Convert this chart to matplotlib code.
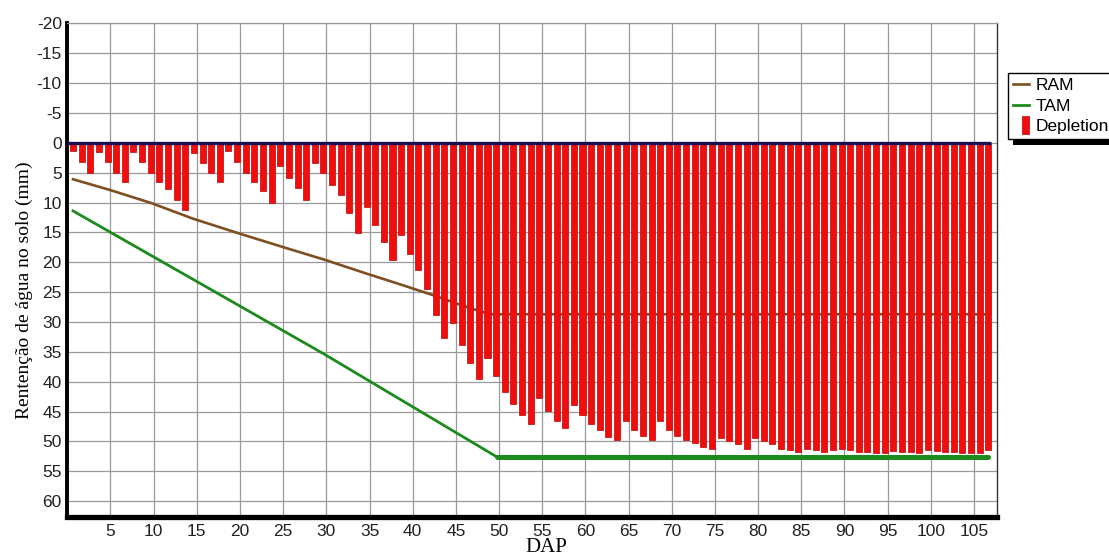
import matplotlib
matplotlib.use('Agg')
import matplotlib.pyplot as plt
from matplotlib.patches import Rectangle
from matplotlib.transforms import IdentityTransform
from matplotlib.legend_handler import HandlerPatch

plt.rcParams['font.family'] = ['Liberation Sans', 'DejaVu Sans']
plt.rcParams['axes.unicode_minus'] = False

# daily depletion (mm), DAP 1..107
days = list(range(1, 108))
depletion = [
    1.3, 3.2, 5.0, 1.5, 3.2, 5.0, 6.6, 1.5, 3.2, 5.0,
    6.6, 7.8, 9.6, 11.3, 1.7, 3.4, 5.1, 6.6, 1.3, 3.2,
    5.0, 6.6, 8.1, 10.1, 3.9, 5.9, 7.6, 9.6, 3.4, 5.1,
    7.1, 8.8, 11.7, 15.1, 10.8, 13.8, 16.6, 19.6, 15.5, 18.6,
    21.3, 24.5, 28.9, 32.6, 30.2, 33.9, 36.8, 39.6, 36.1, 39.0,
    41.7, 43.7, 45.6, 47.1, 42.8, 44.9, 46.6, 47.8, 43.9, 45.6,
    47.0, 48.0, 49.2, 49.8, 46.6, 48.0, 49.0, 49.8, 46.6, 48.0,
    49.0, 49.8, 50.3, 50.9, 51.2, 49.5, 50.0, 50.5, 51.2, 49.5,
    50.0, 50.5, 51.2, 51.5, 51.8, 51.2, 51.5, 51.8, 51.5, 51.3,
    51.5, 51.8, 51.8, 51.9, 51.9, 51.6, 51.8, 51.8, 51.9, 51.4,
    51.6, 51.8, 51.8, 52.0, 52.0, 52.0, 51.5,
]

# readily / total available moisture (mm), read at break points
ram_days = [1, 5.3, 10.1, 14.9, 20.3, 25.2, 30.2, 35, 38.9, 42.7, 45.4, 47.7, 49.3, 107]
ram_vals = [6.1, 7.9, 10.1, 12.7, 15.2, 17.4, 19.6, 21.9, 23.7, 25.5, 26.9, 28.0, 28.7, 28.7]
tam_days = [1, 30, 50.1, 107]
tam_vals = [11.4, 35.3, 52.6, 52.6]

xticks = list(range(5, 106, 5))
yticks = list(range(-20, 61, 5))

shift = 0.34  # bars sit slightly left of the day value
bar_x = [d - shift for d in days]
ram_x = [d - shift for d in ram_days]
tam_x = [d - shift for d in tam_days]


def narrow_box(legend, orig_handle, xdescent, ydescent, width, height, fontsize):
    # tall thin swatch like the original legend
    return Rectangle((-xdescent + 0.55 * width, -ydescent - 0.2 * height),
                     0.45 * width, 1.4 * height)


fig = plt.figure(figsize=(11.09, 5.57), dpi=100)
ax = fig.add_axes([0.0607, 0.0723, 0.8386, 0.8857])

ax.set_axisbelow(True)
ax.grid(True, color='#9a9a9a', linewidth=0.9)

ram_line, = ax.plot(ram_x, ram_vals, color='#7d4f22', lw=1.9, zorder=2, label='RAM')
bars = ax.bar(bar_x, depletion, width=0.7, color='#f20c0c', edgecolor='#c41a1a',
              linewidth=0.6, zorder=3, label='Depletion')
tam_line, = ax.plot(tam_x, tam_vals, color='#1d8a1d', lw=2.0, zorder=4, label='TAM')
ax.plot(tam_x[-2:], tam_vals[-2:], color='#1d8a1d', lw=3.6, zorder=4,
        solid_capstyle='round')
ax.hlines(0, 0, bar_x[-1] + 0.35, color='#1c0c50', lw=2.4, zorder=5)

ax.set_xlim(0, 107.7)
ax.set_ylim(62.6, -20)
ax.set_xticks(xticks)
ax.set_yticks(yticks)
ax.tick_params(axis='both', length=0, labelsize=12.5, labelcolor='#222222')
ax.tick_params(axis='y', pad=4)
ax.tick_params(axis='x', pad=5)

ax.spines['left'].set_linewidth(2.8)
ax.spines['left'].set_color('black')
ax.spines['bottom'].set_linewidth(3.8)
ax.spines['bottom'].set_color('black')
ax.spines['top'].set_color('#9a9a9a')
ax.spines['top'].set_linewidth(0.9)
ax.spines['right'].set_color('#333333')
ax.spines['right'].set_linewidth(1.0)

ax.set_ylabel('Rentenção de água no solo (mm)', family='Liberation Serif', fontsize=14)
ax.yaxis.set_label_coords(-0.037, 0.46)
ax.set_xlabel('DAP', family='Liberation Serif', fontsize=15, va='top')
ax.xaxis.set_label_coords(0.515, -0.044)

bar_handle = bars.patches[0]
leg = ax.legend(handles=[ram_line, tam_line, bar_handle], labels=['RAM', 'TAM', 'Depletion'],
                loc='upper left', bbox_to_anchor=(1008 / 1109, 1 - 73 / 557),
                bbox_transform=fig.transFigure, frameon=True, fancybox=False,
                edgecolor='black', framealpha=1, borderpad=0.3, handlelength=0.9,
                handletextpad=0.4, labelspacing=0.3, borderaxespad=0, fontsize=12.5,
                handler_map={bar_handle: HandlerPatch(patch_func=narrow_box)})
leg.get_frame().set_linewidth(1.0)

# heavy drop shadow behind the legend box
fig.canvas.draw()
bb = leg.get_frame().get_window_extent()
fig.add_artist(Rectangle((bb.x0 + 5, bb.y0 - 6), bb.width, bb.height,
                         transform=IdentityTransform(), facecolor='black',
                         edgecolor='none', zorder=-1))

fig.savefig('out.png', dpi=100)
